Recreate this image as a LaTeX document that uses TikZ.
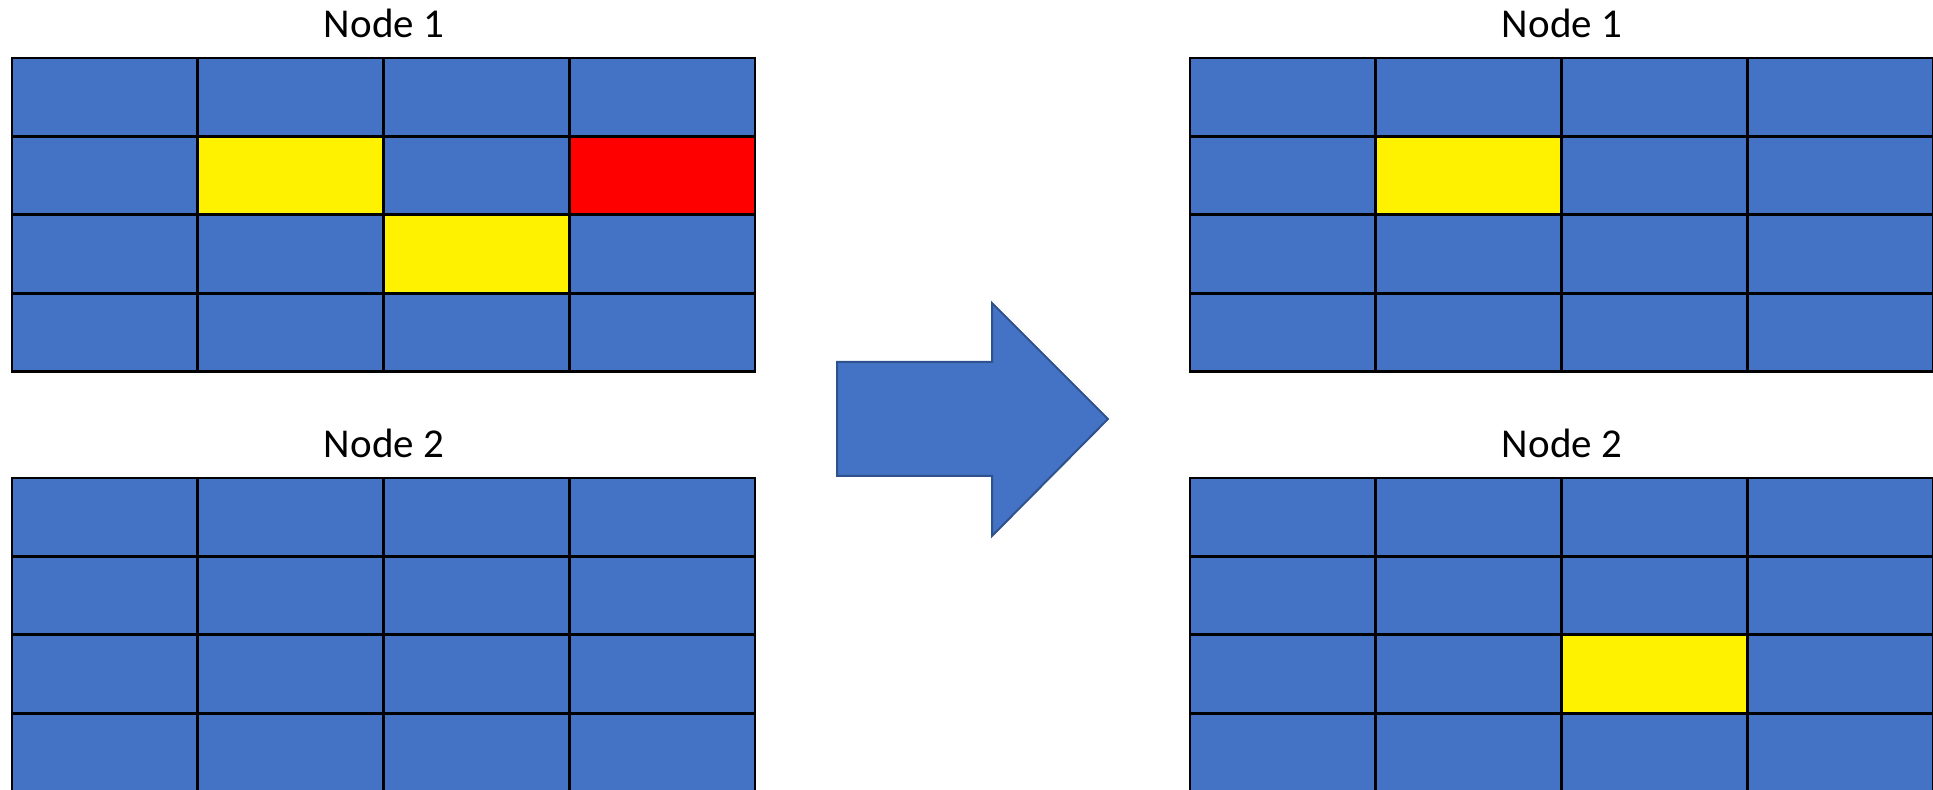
\documentclass[tikz,border=0pt]{standalone}
\usepackage{fontspec}
\setmainfont{Carlito}
\definecolor{cellblue}{HTML}{4472C4}
\definecolor{arrowedge}{HTML}{2F528F}
\def\cw{185.75}
\def\ch{78.4}
\def\c{rectangle ++(\cw,\ch)}

\begin{document}
\begin{tikzpicture}[x=0.5pt, y=-0.5pt,
    cellline/.style={draw=black, line width=1.4pt},
    title/.style={anchor=base, font=\fontsize{20.5}{24}\selectfont}]
    \clip (0,0) rectangle (1933,790);
    % four grids of blue cells
    \foreach \gx/\gy in {12/58, 12/478, 1190/58, 1190/478}
      \foreach \i in {0,...,3}
        \foreach \j in {0,...,3}
          \draw[cellline, fill=cellblue] (\gx+\i*\cw, \gy+\j*\ch) \c;
    % marked cells
    \draw[cellline, fill=yellow] (12+\cw, 58+\ch) \c (12+2*\cw, 58+2*\ch) \c
    	(1190+\cw, 58+\ch) \c (1190+2*\cw, 478+2*\ch) \c;
    \draw[cellline, fill=red] (12+3*\cw, 58+\ch) \c;
    \node[title] (n1l) at (384,37.7) {Node 1};
    \node[title] (n2l) at (384,457.7) {Node 2};
    \node[title] (n1r) at (1562,37.7) {Node 1};
    \node[title] (n2r) at (1562,457.7) {Node 2};
    % block arrow
    \draw[fill=cellblue, draw=arrowedge, line width=1pt] (837,362) -- (992,362) -- (992,303)
    	-- (1108,419) -- (992,536) -- (992,476) -- (837,476) -- cycle;
\end{tikzpicture}
\end{document}
